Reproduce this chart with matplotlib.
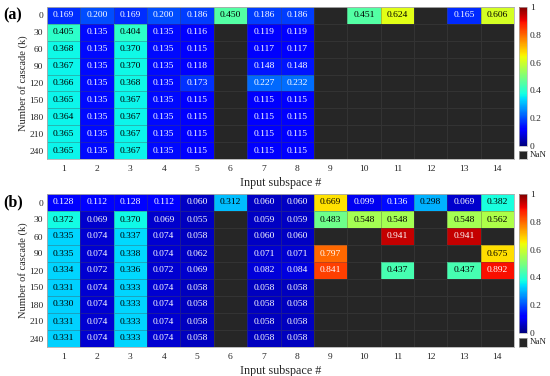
import numpy as np
import matplotlib
matplotlib.use("Agg")
import matplotlib.pyplot as plt
from matplotlib.patches import Rectangle

plt.rcParams['font.family'] = ['Liberation Serif', 'DejaVu Serif']

nan = np.nan

# ---- data ----
cascades = [0, 30, 60, 90, 120, 150, 180, 210, 240]
subspaces = list(range(1, 15))

vals_a = [
    [0.169, 0.200, 0.169, 0.200, 0.186, 0.450, 0.186, 0.186, nan, 0.451, 0.624, nan, 0.165, 0.606],
    [0.405, 0.135, 0.404, 0.135, 0.116, nan, 0.119, 0.119, nan, nan, nan, nan, nan, nan],
    [0.368, 0.135, 0.370, 0.135, 0.115, nan, 0.117, 0.117, nan, nan, nan, nan, nan, nan],
    [0.367, 0.135, 0.370, 0.135, 0.118, nan, 0.148, 0.148, nan, nan, nan, nan, nan, nan],
    [0.366, 0.135, 0.368, 0.135, 0.173, nan, 0.227, 0.232, nan, nan, nan, nan, nan, nan],
    [0.365, 0.135, 0.367, 0.135, 0.115, nan, 0.115, 0.115, nan, nan, nan, nan, nan, nan],
    [0.364, 0.135, 0.367, 0.135, 0.115, nan, 0.115, 0.115, nan, nan, nan, nan, nan, nan],
    [0.365, 0.135, 0.367, 0.135, 0.115, nan, 0.115, 0.115, nan, nan, nan, nan, nan, nan],
    [0.365, 0.135, 0.367, 0.135, 0.115, nan, 0.115, 0.115, nan, nan, nan, nan, nan, nan],
]

vals_b = [
    [0.128, 0.112, 0.128, 0.112, 0.060, 0.312, 0.060, 0.060, 0.669, 0.099, 0.136, 0.298, 0.069, 0.382],
    [0.372, 0.069, 0.370, 0.069, 0.055, nan, 0.059, 0.059, 0.483, 0.548, 0.548, nan, 0.548, 0.562],
    [0.335, 0.074, 0.337, 0.074, 0.058, nan, 0.060, 0.060, nan, nan, 0.941, nan, 0.941, nan],
    [0.335, 0.074, 0.338, 0.074, 0.062, nan, 0.071, 0.071, 0.797, nan, nan, nan, nan, 0.675],
    [0.334, 0.072, 0.336, 0.072, 0.069, nan, 0.082, 0.084, 0.841, nan, 0.437, nan, 0.437, 0.892],
    [0.331, 0.074, 0.333, 0.074, 0.058, nan, 0.058, 0.058, nan, nan, nan, nan, nan, nan],
    [0.330, 0.074, 0.333, 0.074, 0.058, nan, 0.058, 0.058, nan, nan, nan, nan, nan, nan],
    [0.331, 0.074, 0.333, 0.074, 0.058, nan, 0.058, 0.058, nan, nan, nan, nan, nan, nan],
    [0.331, 0.074, 0.333, 0.074, 0.058, nan, 0.058, 0.058, nan, nan, nan, nan, nan, nan],
]

NAN_COLOR = "#262626"
FRAME = "#b0b0b0"
TXT = "#262626"

cmap = plt.get_cmap("jet").copy()
cmap.set_bad(NAN_COLOR)

W, H = 550, 376
fig = plt.figure(figsize=(W / 100, H / 100), dpi=100)


def px(l, t, r, b):
    return [l / W, 1 - b / H, (r - l) / W, (b - t) / H]


def draw_panel(vals, ax_box, cb_box, nan_box, label, label_y):
    data = np.ma.masked_invalid(np.array(vals))
    ax = fig.add_axes(px(*ax_box))
    xe = np.arange(len(subspaces) + 1) + 0.5
    ye = np.arange(len(cascades) + 1) - 0.5
    mesh = ax.pcolormesh(xe, ye, data, cmap=cmap, vmin=0, vmax=1,
                         edgecolors=(0.3, 0.3, 0.3, 0.35), linewidth=0.4)
    ax.set_xlim(0.5, 14.5)
    ax.set_ylim(len(cascades) - 0.5, -0.5)
    for i in range(len(cascades)):
        for j in range(len(subspaces)):
            v = vals[i][j]
            if np.isnan(v):
                continue
            c = "black" if 0.25 < v < 0.72 else "white"
            ax.text(subspaces[j], i, f"{v:.3f}", ha="center", va="center",
                    fontsize=6.8, color=c)
    ax.set_xticks(subspaces)
    ax.set_xticklabels([str(s) for s in subspaces])
    ax.set_yticks(range(len(cascades)))
    ax.set_yticklabels([str(k) for k in cascades])
    ax.tick_params(axis="x", length=0, labelsize=6.8, colors=TXT, pad=4)
    ax.tick_params(axis="y", length=0, labelsize=6.8, colors=TXT, pad=2.5)
    for s in ax.spines.values():
        s.set_color(FRAME)
        s.set_linewidth(0.6)
    ax.set_xlabel("Input subspace #", fontsize=8.7, color=TXT, labelpad=3)
    ax.set_ylabel("Number of cascade (k)", fontsize=7.6, color=TXT, labelpad=1)
    fig.text(3 / W, 1 - label_y / H, label, fontsize=11.5, fontweight="bold",
             va="center", ha="left")

    cax = fig.add_axes(px(*cb_box))
    cb = fig.colorbar(mesh, cax=cax, ticks=[0, 0.2, 0.4, 0.6, 0.8, 1])
    cb.ax.set_yticklabels(["0", "0.2", "0.4", "0.6", "0.8", "1"])
    cb.ax.tick_params(length=0, labelsize=6.8, colors=TXT, pad=2)
    cb.outline.set_edgecolor(FRAME)
    cb.outline.set_linewidth(0.5)

    nax = fig.add_axes(px(*nan_box))
    nax.add_patch(Rectangle((0, 0), 1, 1, color=NAN_COLOR))
    nax.set_xlim(0, 1)
    nax.set_ylim(0, 1)
    nax.set_xticks([])
    nax.set_yticks([])
    for s in nax.spines.values():
        s.set_color(FRAME)
        s.set_linewidth(0.5)
    nax.text(1.3, 0.5, "NaN", transform=nax.transAxes, fontsize=6.5,
             color=TXT, va="center", ha="left")


draw_panel(vals_a, (47, 7, 514, 159), (519, 7, 527, 146), (519, 151, 527, 159), "(a)", 15)
draw_panel(vals_b, (47, 194, 514, 347), (519, 194, 527, 333), (519, 338, 527, 347), "(b)", 202)

fig.savefig("out.png", dpi=100)
